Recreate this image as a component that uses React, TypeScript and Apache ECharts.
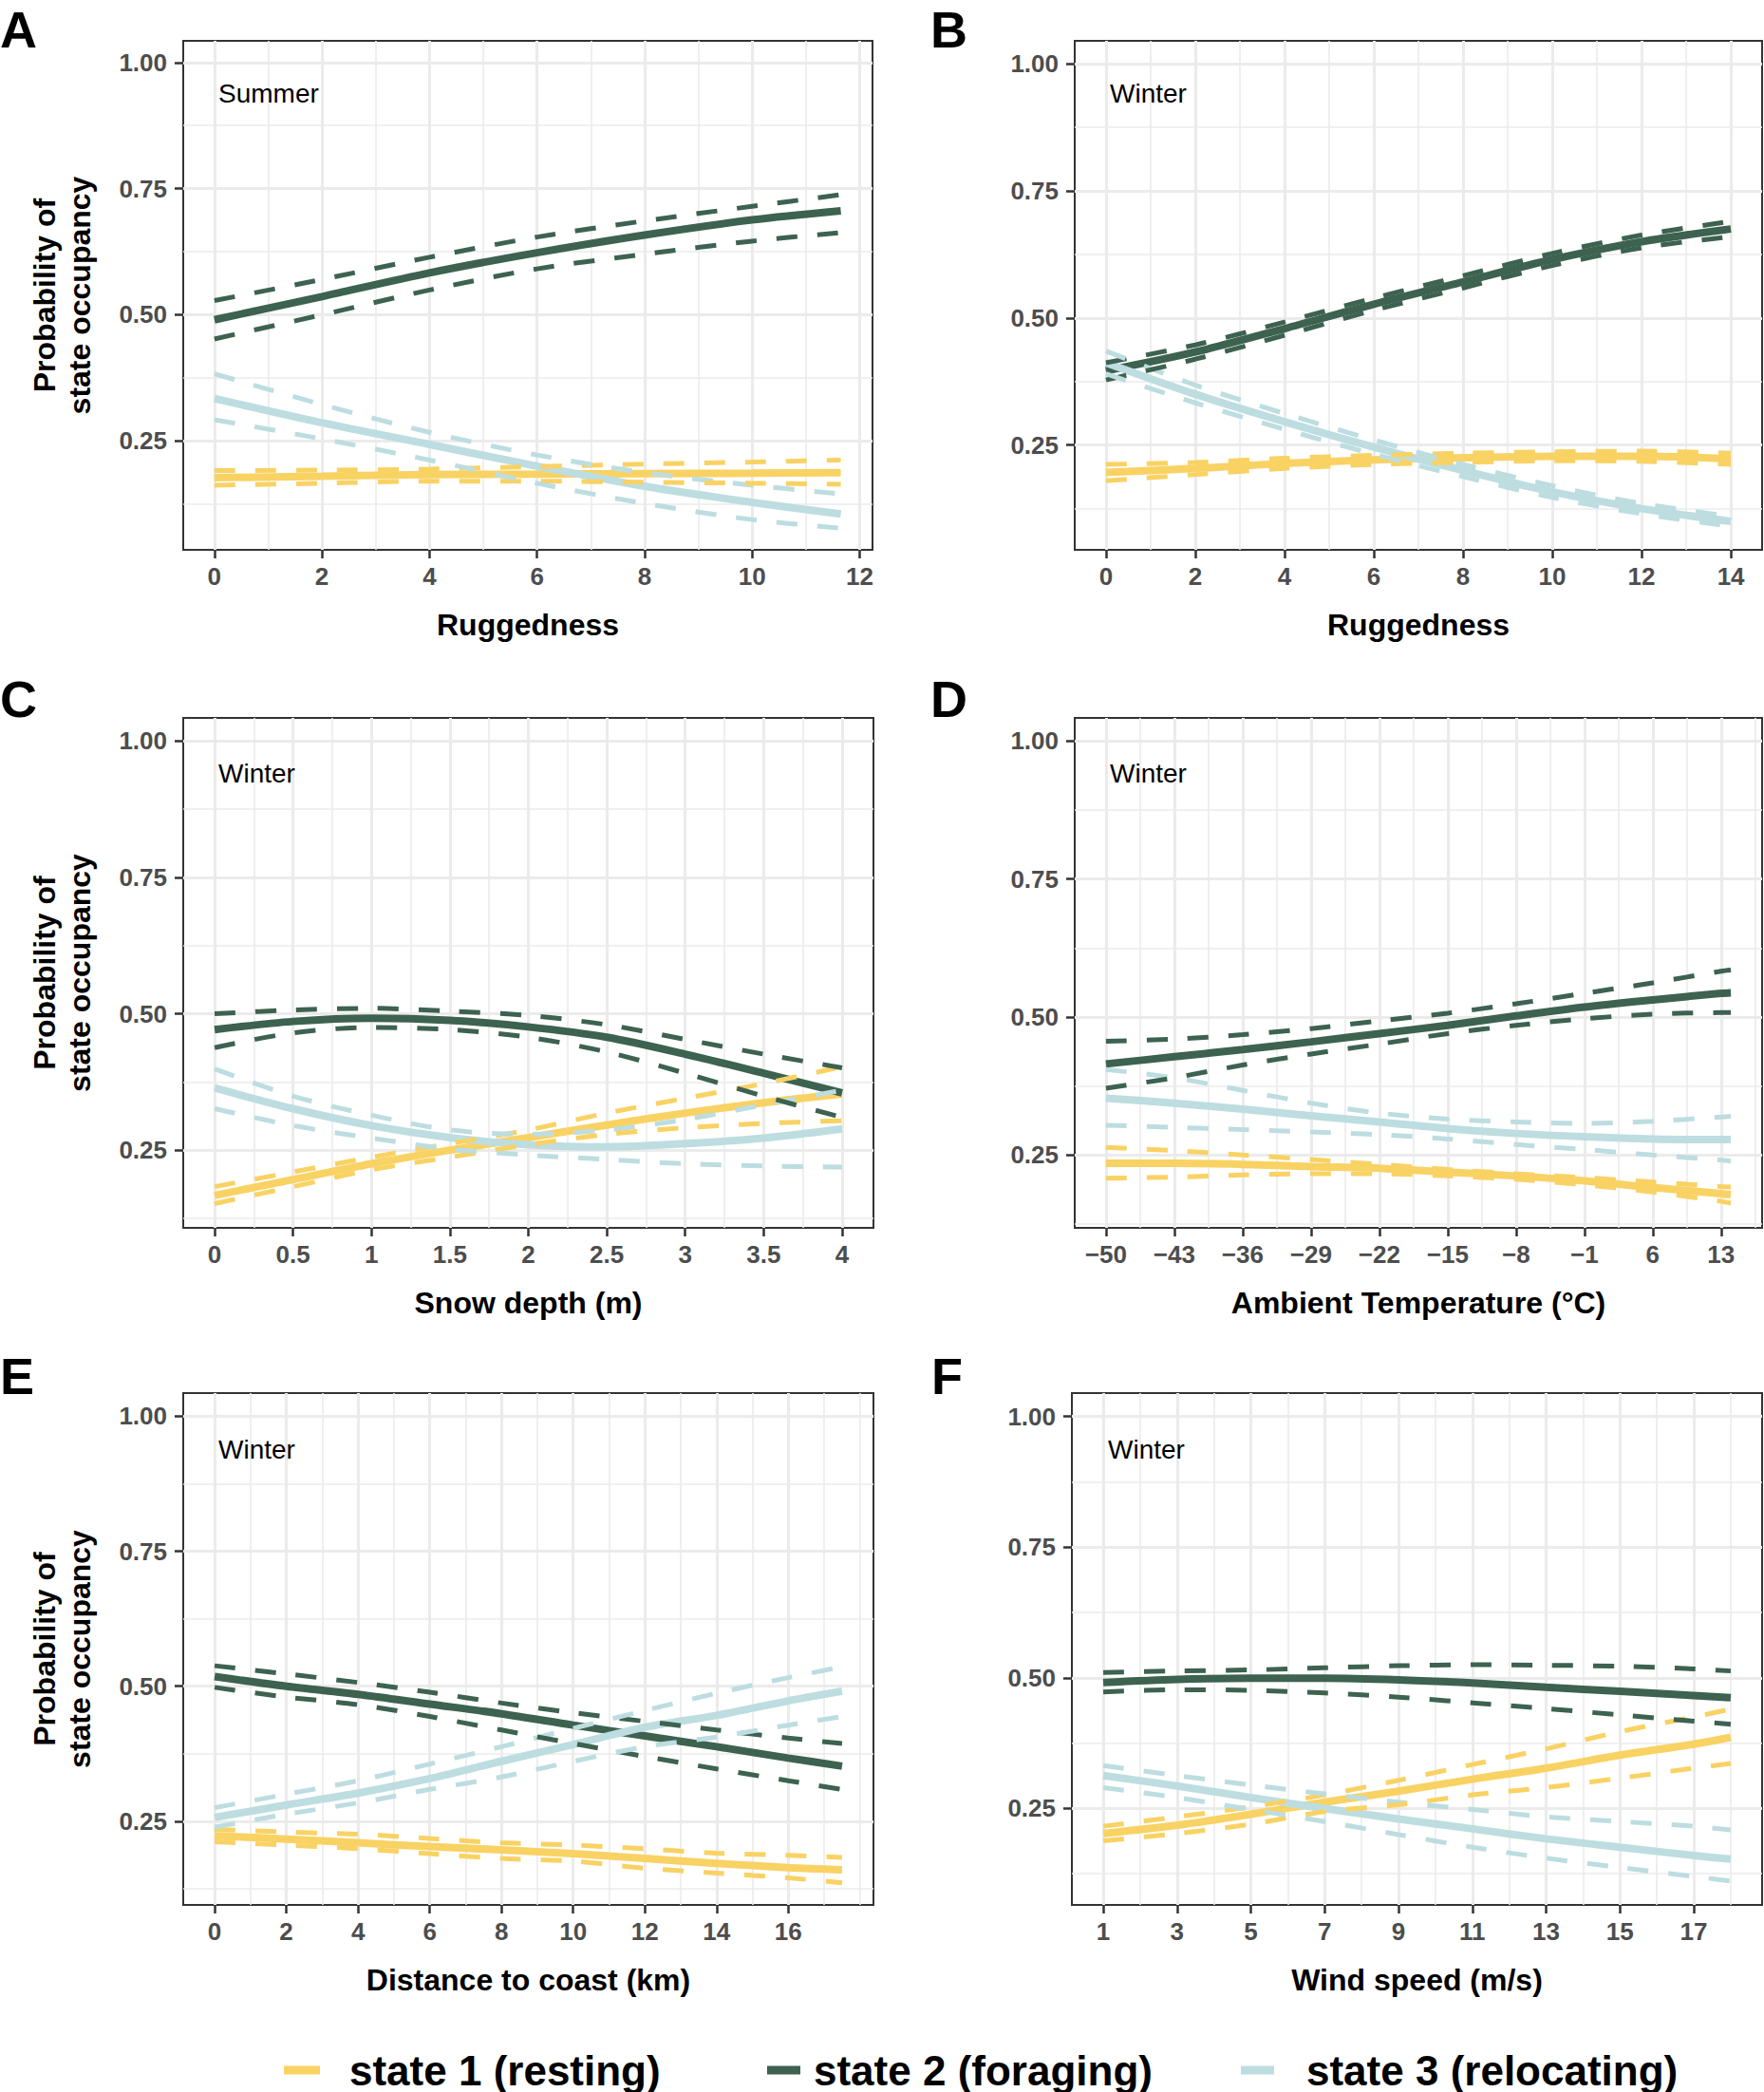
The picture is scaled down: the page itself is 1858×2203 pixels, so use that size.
import React, { useEffect, useRef } from "react";
import * as echarts from "echarts";

const FONT = '"Liberation Sans", Arial, Helvetica, sans-serif';
const STATE_NAMES = ["state 1 (resting)", "state 2 (foraging)", "state 3 (relocating)"];
const STATE_COLORS = ["#F9D264", "#3D6250", "#BDDDE0"];

const Y_TICKS = [0.25, 0.5, 0.75, 1.0];
const Y_MINOR = [0.125, 0.375, 0.625, 0.875];

// ---------- Panel A : Ruggedness, Summer ----------
const A_x = [0, 2, 4, 6, 8, 10, 11.65];
const A_s1_mean = [0.177, 0.18, 0.183, 0.184, 0.185, 0.186, 0.187];
const A_s1_upper = [0.191, 0.192, 0.194, 0.199, 0.204, 0.208, 0.212];
const A_s1_lower = [0.162, 0.166, 0.17, 0.17, 0.168, 0.166, 0.164];
const A_s2_mean = [0.49, 0.536, 0.583, 0.623, 0.658, 0.688, 0.706];
const A_s2_upper = [0.528, 0.57, 0.614, 0.654, 0.686, 0.715, 0.738];
const A_s2_lower = [0.452, 0.5, 0.549, 0.591, 0.62, 0.646, 0.663];
const A_s3_mean = [0.334, 0.286, 0.243, 0.2, 0.16, 0.128, 0.105];
const A_s3_upper = [0.383, 0.322, 0.267, 0.222, 0.187, 0.162, 0.145];
const A_s3_lower = [0.292, 0.254, 0.212, 0.166, 0.126, 0.094, 0.077];
const A_xTicks = [0, 2, 4, 6, 8, 10, 12];
const A_xMinor = [1, 3, 5, 7, 9, 11];

// ---------- Panel B : Ruggedness, Winter ----------
const B_x = [0, 2, 4, 6, 8, 10, 12, 14];
const B_s1_mean = [0.196, 0.204, 0.214, 0.221, 0.225, 0.228, 0.228, 0.223];
const B_s1_upper = [0.212, 0.216, 0.224, 0.23, 0.234, 0.237, 0.238, 0.234];
const B_s1_lower = [0.18, 0.192, 0.204, 0.212, 0.216, 0.219, 0.218, 0.212];
const B_s2_mean = [0.396, 0.433, 0.479, 0.527, 0.571, 0.615, 0.65, 0.675];
const B_s2_upper = [0.412, 0.447, 0.492, 0.539, 0.583, 0.627, 0.663, 0.69];
const B_s2_lower = [0.378, 0.419, 0.466, 0.515, 0.559, 0.603, 0.638, 0.66];
const B_s3_mean = [0.412, 0.35, 0.296, 0.246, 0.2, 0.158, 0.125, 0.1];
const B_s3_upper = [0.435, 0.368, 0.312, 0.26, 0.212, 0.17, 0.135, 0.11];
const B_s3_lower = [0.39, 0.333, 0.281, 0.232, 0.188, 0.147, 0.115, 0.09];
const B_xTicks = [0, 2, 4, 6, 8, 10, 12, 14];
const B_xMinor = [1, 3, 5, 7, 9, 11, 13];

// ---------- Panel C : Snow depth, Winter ----------
const C_x = [0, 0.5, 1, 1.5, 2, 2.5, 3, 3.5, 4];
const C_s1_mean = [0.167, 0.196, 0.225, 0.25, 0.273, 0.296, 0.318, 0.337, 0.353];
const C_s1_upper = [0.183, 0.21, 0.237, 0.262, 0.287, 0.318, 0.345, 0.372, 0.403];
const C_s1_lower = [0.152, 0.183, 0.214, 0.237, 0.26, 0.279, 0.291, 0.299, 0.304];
const C_s2_mean = [0.471, 0.486, 0.492, 0.488, 0.476, 0.457, 0.426, 0.391, 0.355];
const C_s2_upper = [0.5, 0.507, 0.51, 0.505, 0.497, 0.48, 0.453, 0.426, 0.401];
const C_s2_lower = [0.438, 0.465, 0.475, 0.471, 0.457, 0.43, 0.391, 0.349, 0.31];
const C_s3_mean = [0.364, 0.326, 0.295, 0.273, 0.26, 0.256, 0.262, 0.272, 0.289];
const C_s3_upper = [0.399, 0.349, 0.314, 0.287, 0.279, 0.287, 0.306, 0.333, 0.36];
const C_s3_lower = [0.326, 0.295, 0.272, 0.252, 0.241, 0.233, 0.225, 0.221, 0.219];
const C_xTicks = [0, 0.5, 1, 1.5, 2, 2.5, 3, 3.5, 4];
const C_xMinor = [0.25, 0.75, 1.25, 1.75, 2.25, 2.75, 3.25, 3.75];

// ---------- Panel D : Ambient temperature, Winter ----------
const D_x = [-50, -43, -36, -29, -22, -15, -8, -1, 6, 13, 14];
const D_s1_mean = [0.235, 0.235, 0.233, 0.229, 0.226, 0.219, 0.212, 0.203, 0.191, 0.18, 0.178];
const D_s1_upper = [0.264, 0.258, 0.25, 0.242, 0.233, 0.224, 0.216, 0.209, 0.201, 0.193, 0.192];
const D_s1_lower = [0.208, 0.21, 0.214, 0.216, 0.216, 0.212, 0.206, 0.196, 0.183, 0.166, 0.163];
const D_s2_mean = [0.415, 0.428, 0.441, 0.455, 0.47, 0.485, 0.502, 0.518, 0.531, 0.543, 0.544];
const D_s2_upper = [0.456, 0.46, 0.468, 0.479, 0.493, 0.507, 0.524, 0.543, 0.562, 0.583, 0.585];
const D_s2_lower = [0.371, 0.39, 0.413, 0.433, 0.451, 0.47, 0.485, 0.497, 0.505, 0.508, 0.508];
const D_s3_mean = [0.353, 0.344, 0.333, 0.321, 0.31, 0.298, 0.289, 0.283, 0.279, 0.278, 0.278];
const D_s3_upper = [0.405, 0.39, 0.367, 0.344, 0.326, 0.315, 0.31, 0.307, 0.311, 0.319, 0.32];
const D_s3_lower = [0.304, 0.3, 0.296, 0.292, 0.287, 0.279, 0.269, 0.26, 0.25, 0.241, 0.239];
const D_xTicks = [-50, -43, -36, -29, -22, -15, -8, -1, 6, 13];
const D_xMinor = [-46.5, -39.5, -32.5, -25.5, -18.5, -11.5, -4.5, 2.5, 9.5, 16.5];

// ---------- Panel E : Distance to coast, Winter ----------
const E_x = [0, 2, 4, 6, 8, 10, 12, 14, 16, 17.5];
const E_s1_mean = [0.223, 0.217, 0.21, 0.203, 0.197, 0.19, 0.181, 0.172, 0.164, 0.16];
const E_s1_upper = [0.235, 0.23, 0.226, 0.218, 0.21, 0.206, 0.199, 0.191, 0.187, 0.183];
const E_s1_lower = [0.212, 0.206, 0.199, 0.19, 0.181, 0.176, 0.163, 0.154, 0.145, 0.136];
const E_s2_mean = [0.518, 0.5, 0.485, 0.467, 0.449, 0.428, 0.408, 0.388, 0.367, 0.352];
const E_s2_upper = [0.538, 0.523, 0.507, 0.489, 0.469, 0.451, 0.435, 0.419, 0.404, 0.394];
const E_s2_lower = [0.498, 0.48, 0.466, 0.444, 0.419, 0.394, 0.37, 0.347, 0.325, 0.309];
const E_s3_mean = [0.257, 0.28, 0.302, 0.329, 0.361, 0.392, 0.424, 0.446, 0.473, 0.491];
const E_s3_upper = [0.275, 0.3, 0.325, 0.356, 0.388, 0.422, 0.455, 0.487, 0.516, 0.536];
const E_s3_lower = [0.239, 0.263, 0.284, 0.309, 0.332, 0.361, 0.388, 0.406, 0.428, 0.444];
const E_xTicks = [0, 2, 4, 6, 8, 10, 12, 14, 16];
const E_xMinor = [1, 3, 5, 7, 9, 11, 13, 15, 17, 18];

// ---------- Panel F : Wind speed, Winter ----------
const F_x = [1, 3, 5, 7, 9, 11, 13, 15, 17, 18];
const F_s1_mean = [0.202, 0.218, 0.239, 0.262, 0.283, 0.306, 0.327, 0.352, 0.373, 0.386];
const F_s1_upper = [0.216, 0.234, 0.253, 0.276, 0.304, 0.334, 0.364, 0.397, 0.425, 0.44];
const F_s1_lower = [0.188, 0.202, 0.22, 0.244, 0.257, 0.276, 0.29, 0.308, 0.327, 0.336];
const F_s2_mean = [0.491, 0.497, 0.499, 0.499, 0.496, 0.49, 0.482, 0.474, 0.466, 0.462];
const F_s2_upper = [0.51, 0.513, 0.515, 0.519, 0.523, 0.525, 0.524, 0.522, 0.517, 0.513];
const F_s2_lower = [0.473, 0.477, 0.476, 0.471, 0.463, 0.452, 0.441, 0.429, 0.417, 0.411];
const F_s3_mean = [0.313, 0.293, 0.271, 0.25, 0.23, 0.211, 0.192, 0.176, 0.16, 0.153];
const F_s3_upper = [0.332, 0.313, 0.295, 0.278, 0.262, 0.248, 0.234, 0.225, 0.216, 0.209];
const F_s3_lower = [0.29, 0.271, 0.248, 0.225, 0.2, 0.176, 0.155, 0.137, 0.12, 0.111];
const F_xTicks = [1, 3, 5, 7, 9, 11, 13, 15, 17];
const F_xMinor = [2, 4, 6, 8, 10, 12, 14, 16, 18];

const PANELS = [
  { letter: "A", season: "Summer", xTitle: "Ruggedness", x: A_x,
    states: [[A_s1_mean, A_s1_upper, A_s1_lower], [A_s2_mean, A_s2_upper, A_s2_lower], [A_s3_mean, A_s3_upper, A_s3_lower]],
    xTicks: A_xTicks, xMinor: A_xMinor, xRange: [-0.58, 12.24], yRange: [0.034, 1.043],
    grid: { left: 193, top: 43, width: 726, height: 536 }, yTitle: true, letterPos: [0, 4], letterTop: true, seasonPos: [230, 98] },
  { letter: "B", season: "Winter", xTitle: "Ruggedness", x: B_x,
    states: [[B_s1_mean, B_s1_upper, B_s1_lower], [B_s2_mean, B_s2_upper, B_s2_lower], [B_s3_mean, B_s3_upper, B_s3_lower]],
    xTicks: B_xTicks, xMinor: B_xMinor, xRange: [-0.7, 14.7], yRange: [0.044, 1.045],
    grid: { left: 1132, top: 43, width: 724, height: 536 }, yTitle: false, letterPos: [980, 4], letterTop: true, seasonPos: [1169, 98] },
  { letter: "C", season: "Winter", xTitle: "Snow depth (m)", x: C_x,
    states: [[C_s1_mean, C_s1_upper, C_s1_lower], [C_s2_mean, C_s2_upper, C_s2_lower], [C_s3_mean, C_s3_upper, C_s3_lower]],
    xTicks: C_xTicks, xMinor: C_xMinor, xRange: [-0.2, 4.2], yRange: [0.1075, 1.0425],
    grid: { left: 193, top: 756, width: 727, height: 537 }, yTitle: true, letterPos: [0, 736], letterTop: false, seasonPos: [230, 814] },
  { letter: "D", season: "Winter", xTitle: "Ambient Temperature (°C)", x: D_x,
    states: [[D_s1_mean, D_s1_upper, D_s1_lower], [D_s2_mean, D_s2_upper, D_s2_lower], [D_s3_mean, D_s3_upper, D_s3_lower]],
    xTicks: D_xTicks, xMinor: D_xMinor, xRange: [-53.2, 17.2], yRange: [0.118, 1.042],
    grid: { left: 1132, top: 756, width: 724, height: 537 }, yTitle: false, letterPos: [980, 736], letterTop: false, seasonPos: [1169, 814] },
  { letter: "E", season: "Winter", xTitle: "Distance to coast (km)", x: E_x,
    states: [[E_s1_mean, E_s1_upper, E_s1_lower], [E_s2_mean, E_s2_upper, E_s2_lower], [E_s3_mean, E_s3_upper, E_s3_lower]],
    xTicks: E_xTicks, xMinor: E_xMinor, xRange: [-0.875, 18.375], yRange: [0.095, 1.043],
    grid: { left: 193, top: 1467, width: 727, height: 539 }, yTitle: true, letterPos: [0, 1449], letterTop: false, seasonPos: [230, 1526] },
  { letter: "F", season: "Winter", xTitle: "Wind speed (m/s)", x: F_x,
    states: [[F_s1_mean, F_s1_upper, F_s1_lower], [F_s2_mean, F_s2_upper, F_s2_lower], [F_s3_mean, F_s3_upper, F_s3_lower]],
    xTicks: F_xTicks, xMinor: F_xMinor, xRange: [0.15, 18.85], yRange: [0.0655, 1.0445],
    grid: { left: 1129, top: 1467, width: 727, height: 539 }, yTitle: false, letterPos: [981, 1449], letterTop: false, seasonPos: [1167, 1526] },
];

const LEGEND_POS = [
  { key: [299, 337], text: 368 },
  { key: [808, 843], text: 857 },
  { key: [1307, 1342], text: 1376 },
];
const LEGEND_Y = 2180;

function fmtX(v: number) {
  return v < 0 ? "\u2212" + Math.abs(v) : String(v);
}

function buildOption() {
  const grids: any[] = [];
  const xAxes: any[] = [];
  const yAxes: any[] = [];
  const series: any[] = [];
  const graphics: any[] = [];

  PANELS.forEach((p, i) => {
    grids.push({ ...p.grid, show: true, borderColor: "#333333", borderWidth: 2, backgroundColor: "#ffffff", containLabel: false });
    const [xmin, xmax] = p.xRange;
    const [ymin, ymax] = p.yRange;
    xAxes.push({
      type: "value", gridIndex: i, min: xmin, max: xmax, position: "bottom",
      axisLine: { show: false, onZero: false },
      axisTick: { show: true, length: 9, lineStyle: { color: "#333333", width: 2.5 }, customValues: p.xTicks },
      axisLabel: { customValues: p.xTicks, formatter: (v: number) => fmtX(v), color: "#4D4D4D", fontWeight: "bold", fontSize: 26, margin: 15, fontFamily: FONT },
      splitLine: { show: true, lineStyle: { color: "#EBEBEB", width: 3 } },
      name: p.xTitle, nameLocation: "middle", nameGap: 63,
      nameTextStyle: { color: "#000000", fontWeight: "bold", fontSize: 32, fontFamily: FONT },
    });
    xAxes.push({
      type: "value", gridIndex: i, min: xmin, max: xmax, position: "top",
      axisLine: { show: false, onZero: false },
      axisTick: { show: false, customValues: p.xMinor },
      axisLabel: { show: false },
      splitLine: { show: true, lineStyle: { color: "#EBEBEB", width: 1.6 } },
    });
    yAxes.push({
      type: "value", gridIndex: i, min: ymin, max: ymax, position: "left",
      axisLine: { show: false, onZero: false },
      axisTick: { show: true, length: 9, lineStyle: { color: "#333333", width: 2.5 }, customValues: Y_TICKS },
      axisLabel: { customValues: Y_TICKS, formatter: (v: number) => v.toFixed(2), color: "#4D4D4D", fontWeight: "bold", fontSize: 26, margin: 17, fontFamily: FONT },
      splitLine: { show: true, lineStyle: { color: "#EBEBEB", width: 3 } },
      ...(p.yTitle ? {
        name: "Probability of\nstate occupancy", nameLocation: "middle", nameGap: 91, nameRotate: 90,
        nameTextStyle: { color: "#000000", fontWeight: "bold", fontSize: 32, lineHeight: 37, fontFamily: FONT },
      } : {}),
    });
    yAxes.push({
      type: "value", gridIndex: i, min: ymin, max: ymax, position: "right",
      axisLine: { show: false, onZero: false },
      axisTick: { show: false, customValues: Y_MINOR.filter((v) => v > ymin && v < ymax) },
      axisLabel: { show: false },
      splitLine: { show: true, lineStyle: { color: "#EBEBEB", width: 1.6 } },
    });

    // mean lines first, then confidence limits
    [0, 1, 2].forEach((kind) => {
      p.states.forEach((st, s) => {
        const arr = st[kind];
        series.push({
          type: "line", name: STATE_NAMES[s], xAxisIndex: 2 * i, yAxisIndex: 2 * i,
          data: p.x.map((xv, k) => [xv, arr[k]]),
          showSymbol: false, symbol: "none", smooth: 0.3, silent: true,
          lineStyle: kind === 0
            ? { color: STATE_COLORS[s], width: 8, type: "solid", cap: "butt" }
            : { color: STATE_COLORS[s], width: 5, type: [22, 21], cap: "butt" },
          z: kind === 0 ? 3 : 4,
        });
      });
    });

    graphics.push({
      type: "text", x: p.letterPos[0], y: p.letterPos[1],
      style: { text: p.letter, fill: "#000000", font: `bold 54px ${FONT}`, verticalAlign: p.letterTop ? "top" : "middle", align: "left" },
    });
    graphics.push({
      type: "text", x: p.seasonPos[0], y: p.seasonPos[1], z: 10,
      style: { text: p.season, fill: "#000000", font: `28px ${FONT}`, verticalAlign: "middle", align: "left" },
    });
  });

  LEGEND_POS.forEach((l, s) => {
    graphics.push({
      type: "line", shape: { x1: l.key[0], y1: LEGEND_Y, x2: l.key[1], y2: LEGEND_Y },
      style: { stroke: STATE_COLORS[s], lineWidth: 9 },
    });
    graphics.push({
      type: "text", x: l.text, y: LEGEND_Y,
      style: { text: STATE_NAMES[s], fill: "#000000", font: `bold 44px ${FONT}`, verticalAlign: "middle", align: "left" },
    });
  });

  return {
    animation: false,
    backgroundColor: "#ffffff",
    grid: grids,
    xAxis: xAxes,
    yAxis: yAxes,
    series,
    graphic: graphics,
  };
}

export default function App() {
  const ref = useRef<HTMLDivElement>(null);
  useEffect(() => {
    document.body.style.margin = "0";
    if (!ref.current) return;
    const chart = echarts.init(ref.current, undefined, { renderer: "svg" });
    chart.setOption(buildOption() as any);
    return () => chart.dispose();
  }, []);
  return <div ref={ref} style={{ width: 1858, height: 2203 }} />;
}
